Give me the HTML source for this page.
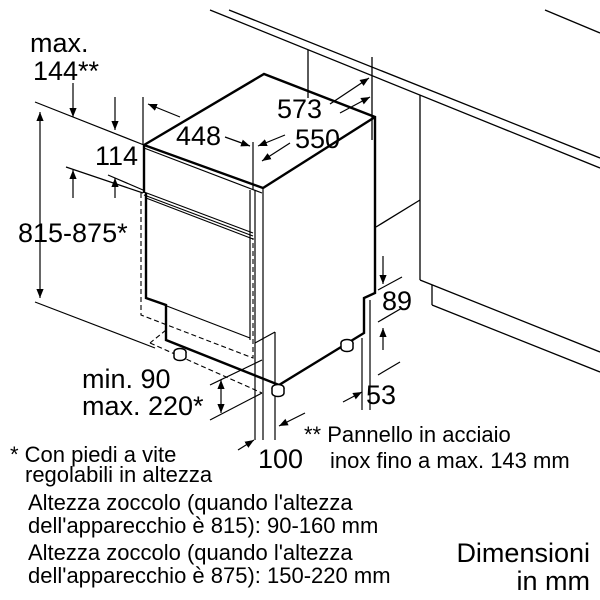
<!DOCTYPE html>
<html><head><meta charset="utf-8"><style>
html,body{margin:0;padding:0;background:#fff;}
svg{display:block;}
text{font-family:"Liberation Sans",Arial,sans-serif;fill:#000;}
</style></head><body>
<svg width="600" height="600" viewBox="0 0 600 600" xmlns="http://www.w3.org/2000/svg">
<defs>
<marker id="a" viewBox="0 0 10 10" refX="10" refY="5" markerWidth="9" markerHeight="9" orient="auto-start-reverse" markerUnits="userSpaceOnUse"><path d="M0,1 L10,5 L0,9 z" fill="#000"/></marker>
</defs>
<g stroke="#000" fill="none" stroke-width="1.3">
<line x1="210" y1="10" x2="600" y2="168"/>
<line x1="229" y1="10" x2="600" y2="158"/>
<line x1="545" y1="10" x2="600" y2="33"/>
<line x1="308" y1="50" x2="308" y2="98"/>
<line x1="372" y1="57" x2="372" y2="140"/>
<line x1="420" y1="95" x2="420" y2="280"/>
<line x1="376" y1="227" x2="420" y2="200"/>
<line x1="420" y1="280" x2="600" y2="352"/>
<line x1="432" y1="285" x2="432" y2="305"/>
<line x1="432" y1="305" x2="600" y2="372"/>
</g>
<g stroke="#000" fill="none" stroke-width="2.4" stroke-linejoin="miter">
<polyline points="144,193 144,145 264,74 375,117 375,293 364,298 364,333 279,385 166,340 166,305 146,298 146,193"/>
<line x1="144" y1="145" x2="263" y2="188"/>
<line x1="263" y1="188" x2="375" y2="117"/>
</g>
<g stroke="#000" fill="none" stroke-width="1.2">
<line x1="144" y1="148" x2="262" y2="193"/>
<line x1="144" y1="192" x2="253" y2="233"/>
<line x1="144" y1="195" x2="253" y2="236"/>
<line x1="146" y1="198" x2="253" y2="239"/>
<line x1="250" y1="190" x2="250" y2="340"/>
<line x1="255" y1="190" x2="255" y2="440"/>
<line x1="263" y1="188" x2="263" y2="440"/>
<line x1="255" y1="343" x2="275" y2="332"/>
<line x1="275" y1="332" x2="275" y2="440"/>
<line x1="146" y1="298" x2="250" y2="338"/>
<line x1="362" y1="338" x2="362" y2="410"/>
<line x1="370" y1="300" x2="370" y2="410"/>
</g>
<g stroke="#000" fill="none" stroke-width="1.1" stroke-dasharray="5,3">
<polyline points="141,193 141,315 253,358 253,238"/>
<line x1="150" y1="343" x2="262" y2="393"/>
<line x1="166" y1="330" x2="150" y2="343"/>
</g>
<g stroke="#000" fill="#fff" stroke-width="1.5">
<ellipse cx="180" cy="352" rx="6" ry="3.5"/><path d="M174,352 v5 a6,3.5 0 0 0 12,0 v-5"/>
<ellipse cx="278" cy="388" rx="6" ry="3.5"/><path d="M272,388 v5 a6,3.5 0 0 0 12,0 v-5"/>
<ellipse cx="347" cy="343" rx="6" ry="3.5"/><path d="M341,343 v5 a6,3.5 0 0 0 12,0 v-5"/>
</g>
<g stroke="#000" fill="none" stroke-width="1.2">
<line x1="35" y1="102" x2="144" y2="145"/>
<line x1="35" y1="302" x2="155" y2="348"/>
<line x1="40" y1="112" x2="40" y2="298" marker-start="url(#a)" marker-end="url(#a)"/>
<line x1="73" y1="83" x2="73" y2="117" marker-end="url(#a)"/>
<line x1="115" y1="97" x2="115" y2="130" marker-end="url(#a)"/>
<line x1="66" y1="167" x2="143" y2="193"/>
<line x1="108" y1="175" x2="143" y2="190"/>
<line x1="73" y1="198" x2="73" y2="170" marker-end="url(#a)"/>
<line x1="115" y1="198" x2="115" y2="178" marker-end="url(#a)"/>
<line x1="143" y1="97" x2="143" y2="145"/>
<line x1="180" y1="117" x2="148" y2="104" marker-end="url(#a)"/>
<line x1="225" y1="137" x2="250" y2="146" marker-end="url(#a)"/>
<line x1="253" y1="142" x2="253" y2="190"/>
<line x1="330" y1="104" x2="369" y2="78" marker-end="url(#a)"/>
<line x1="285" y1="135" x2="258" y2="146" marker-end="url(#a)"/>
<line x1="290" y1="143" x2="262" y2="161" marker-end="url(#a)"/>
<line x1="340" y1="113" x2="370" y2="97" marker-end="url(#a)"/>
<line x1="383" y1="256" x2="383" y2="284" marker-end="url(#a)"/>
<line x1="378" y1="290" x2="402" y2="277"/>
<line x1="383" y1="350" x2="383" y2="328" marker-end="url(#a)"/>
<line x1="378" y1="322" x2="402" y2="308"/>
<line x1="378" y1="375" x2="400" y2="362"/>
<line x1="343" y1="402" x2="362" y2="392" marker-end="url(#a)"/>
<line x1="210" y1="385" x2="262" y2="360"/>
<line x1="210" y1="420" x2="262" y2="393"/>
<line x1="221" y1="380" x2="221" y2="413" marker-start="url(#a)" marker-end="url(#a)"/>
<line x1="305" y1="413" x2="279" y2="426" marker-end="url(#a)"/>
<line x1="238" y1="450" x2="254" y2="440" marker-end="url(#a)"/>
</g>
<g font-size="27">
<text x="30" y="52">max.</text>
<text x="33" y="80">144**</text>
<text x="95" y="165">114</text>
<text x="18" y="242">815-875*</text>
<text x="176" y="145">448</text>
<text x="277" y="118">573</text>
<text x="295" y="148">550</text>
<text x="382" y="310">89</text>
<text x="366" y="404">53</text>
<text x="82" y="388">min. 90</text>
<text x="82" y="415">max. 220*</text>
<text x="258" y="468">100</text>
</g>
<g font-size="22">
<text x="304" y="442">** Pannello in acciaio</text>
<text x="330" y="468">inox fino a max. 143 mm</text>
<text x="10" y="462">* Con piedi a vite</text>
<text x="25" y="482">regolabili in altezza</text>
<text x="28" y="510">Altezza zoccolo (quando l'altezza</text>
<text x="28" y="533">dell'apparecchio è 815): 90-160 mm</text>
<text x="28" y="560">Altezza zoccolo (quando l'altezza</text>
<text x="28" y="583">dell'apparecchio è 875): 150-220 mm</text>
</g>
<g font-size="27">
<text x="590" y="562" text-anchor="end">Dimensioni</text>
<text x="590" y="590" text-anchor="end">in mm</text>
</g>
</svg>
</body></html>
